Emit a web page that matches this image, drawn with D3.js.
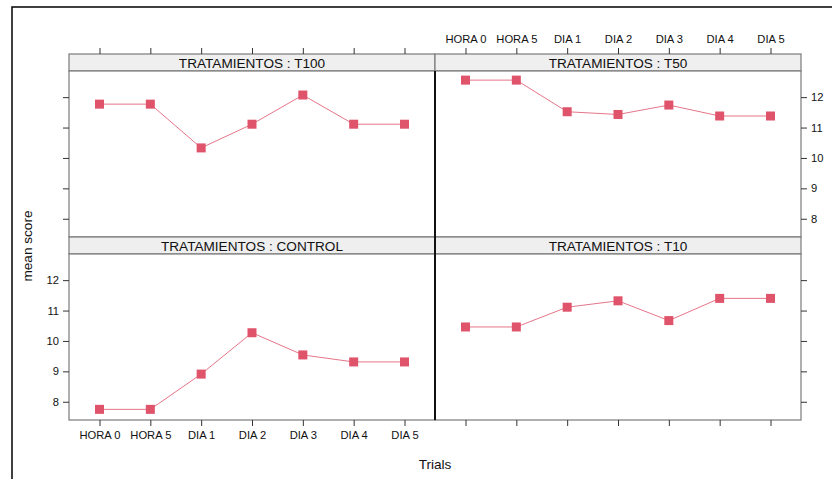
<!DOCTYPE html>
<html>
<head>
<meta charset="utf-8">
<script src="https://cdn.jsdelivr.net/npm/d3@7"></script>
<style>
  html, body { margin: 0; padding: 0; background: #fff; }
  svg { display: block; font-family: Arial, "Liberation Sans", sans-serif; }
</style>
</head>
<body>
<svg id="chart" width="832" height="479"></svg>
<script>
// Trials on the x axis
const trials = ["HORA 0", "HORA 5", "DIA 1", "DIA 2", "DIA 3", "DIA 4", "DIA 5"];
// Mean score per treatment
const t100    = [11.77, 11.77, 10.33, 11.11, 12.07, 11.11, 11.11];
const t50     = [12.56, 12.56, 11.52, 11.43, 11.74, 11.38, 11.38];
const control = [7.75, 7.75, 8.91, 10.27, 9.54, 9.31, 9.31];
const t10     = [10.46, 10.46, 11.11, 11.32, 10.67, 11.40, 11.40];
const yTicks  = [8, 9, 10, 11, 12];

const panels = [
  { label: "TRATAMIENTOS : T100",    values: t100,    col: 0, row: 0 },
  { label: "TRATAMIENTOS : T50",     values: t50,     col: 1, row: 0 },
  { label: "TRATAMIENTOS : CONTROL", values: control, col: 0, row: 1 },
  { label: "TRATAMIENTOS : T10",     values: t10,     col: 1, row: 1 }
];

const svg = d3.select("#chart");
const colX = [69, 435], panelW = 366;
const rowY = [54, 237], stripH = 17, plotH = 166;
const markColor = "#DF536B";
const frameColor = "#7a7a7a";

// outer frame (runs off the right and bottom edges)
svg.append("rect")
  .attr("x", 12).attr("y", 7).attr("width", 840).attr("height", 490)
  .attr("fill", "none").attr("stroke", "#111").attr("stroke-width", 1.6);

const yScaleFor = row => d3.scaleLinear()
  .domain([7.4, 12.86])
  .range([rowY[row] + stripH + plotH, rowY[row] + stripH]);
const xScaleFor = col => d3.scalePoint()
  .domain(trials)
  .range([colX[col], colX[col] + panelW])
  .padding(0.6);

panels.forEach(p => {
  const x = xScaleFor(p.col), y = yScaleFor(p.row);
  const g = svg.append("g");
  const top = rowY[p.row];

  // strip
  g.append("rect")
    .attr("x", colX[p.col]).attr("y", top)
    .attr("width", panelW).attr("height", stripH)
    .attr("fill", "#efefef").attr("stroke", frameColor).attr("stroke-width", 1.2);
  g.append("text")
    .attr("x", colX[p.col] + panelW / 2).attr("y", top + stripH / 2 + 0.5)
    .attr("text-anchor", "middle").attr("dominant-baseline", "central")
    .attr("font-size", 13.6).attr("fill", "#111")
    .text(p.label);

  // panel box
  g.append("rect")
    .attr("x", colX[p.col]).attr("y", top + stripH)
    .attr("width", panelW).attr("height", plotH)
    .attr("fill", "#fff").attr("stroke", frameColor).attr("stroke-width", 1.2);

  // axes: ticks on every outer side, labels alternate
  const axisStyle = (sel, showLabels) => {
    sel.select(".domain").remove();
    sel.selectAll(".tick line").attr("stroke", "#333");
    sel.selectAll(".tick text").attr("fill", "#111").attr("font-size", 11.2)
      .attr("font-family", "Arial, 'Liberation Sans', sans-serif");
    if (!showLabels) sel.selectAll(".tick text").remove();
  };
  if (p.row === 0) {
    svg.append("g").attr("transform", `translate(0,${top})`)
      .call(d3.axisTop(x).tickSize(6).tickPadding(5))
      .call(s => axisStyle(s, p.col === 1));
  } else {
    svg.append("g").attr("transform", `translate(0,${top + stripH + plotH})`)
      .call(d3.axisBottom(x).tickSize(6).tickPadding(5))
      .call(s => axisStyle(s, p.col === 0));
  }
  if (p.col === 0) {
    svg.append("g").attr("transform", `translate(${colX[0]},0)`)
      .call(d3.axisLeft(y).tickValues(yTicks).tickFormat(d3.format("d")).tickSize(6).tickPadding(4))
      .call(s => axisStyle(s, p.row === 1));
  } else {
    svg.append("g").attr("transform", `translate(${colX[1] + panelW},0)`)
      .call(d3.axisRight(y).tickValues(yTicks).tickFormat(d3.format("d")).tickSize(6).tickPadding(4))
      .call(s => axisStyle(s, p.row === 0));
  }

  // series line and square markers
  const pts = trials.map((t, i) => [x(t), y(p.values[i])]);
  g.append("path")
    .attr("d", d3.line()(pts))
    .attr("fill", "none").attr("stroke", markColor)
    .attr("stroke-opacity", 0.8).attr("stroke-width", 1);
  g.selectAll("rect.mark").data(pts).join("rect")
    .attr("class", "mark")
    .attr("x", d => d[0] - 4.5).attr("y", d => d[1] - 4.5)
    .attr("width", 9).attr("height", 9)
    .attr("fill", markColor);
});

// dark divider between the two columns of panels
svg.append("line")
  .attr("x1", colX[1]).attr("x2", colX[1])
  .attr("y1", rowY[0] + stripH).attr("y2", rowY[1] + stripH + plotH)
  .attr("stroke", "#111").attr("stroke-width", 2);

// axis titles
svg.append("text")
  .attr("transform", "translate(27,246) rotate(-90)")
  .attr("text-anchor", "middle").attr("dominant-baseline", "central")
  .attr("font-size", 13.6).attr("fill", "#111")
  .text("mean score");
svg.append("text")
  .attr("x", 435).attr("y", 464)
  .attr("text-anchor", "middle").attr("dominant-baseline", "central")
  .attr("font-size", 13.6).attr("fill", "#111")
  .text("Trials");
</script>
</body>
</html>
